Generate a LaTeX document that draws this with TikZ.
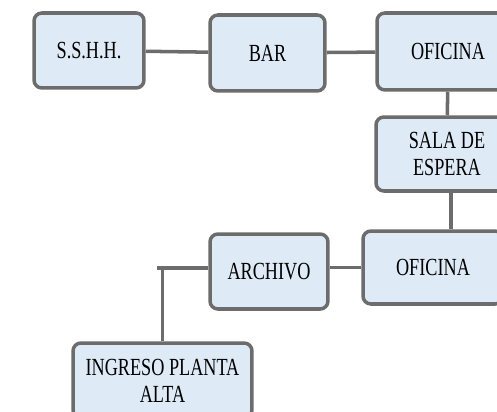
\documentclass[tikz,border=0pt]{standalone}
\usepackage{fontspec}
\setmainfont{Liberation Serif}[FakeStretch=0.74]
\usepackage{xcolor}
\usetikzlibrary{calc}
\definecolor{roomfill}{RGB}{222,234,246}
\definecolor{roomline}{RGB}{108,108,108}

\begin{document}
\begin{tikzpicture}[x=0.02cm, y=-0.02cm,
    room/.style={draw=roomline, fill=roomfill, line width=2pt, rounded corners=4.5pt,
      align=center, inner sep=0pt, font=\fontsize{14}{15.5}\selectfont},
    link/.style={draw=roomline, line width=2pt}]
      \useasboundingbox (0,0) rectangle (497,412);
      \clip (0,0) rectangle (497,412);
      \node[room, minimum width=2.2cm, minimum height=1.5cm] (sshh) at (89,50.5) {S.S.H.H.};
      \node[room, minimum width=2.3cm, minimum height=1.52cm] (bar) at (267.5,53) {BAR};
      \node[room, minimum width=2.84cm, minimum height=1.54cm] (ofiA) at (448,51.5) {OFICINA};
      \node[room, minimum width=2.84cm, minimum height=1.48cm] (sala) at (447,154) {SALA DE\\ESPERA};
      \node[room, minimum width=2.8cm, minimum height=1.46cm] (ofiB) at (433,267.5) {OFICINA};
      \node[room, minimum width=2.36cm, minimum height=1.5cm] (arch) at (269,271.5) {ARCHIVO};
      \node[room, minimum width=3.58cm, minimum height=1.5cm] (ingr) at (162.5,380.5) {INGRESO PLANTA\\ALTA};
      \coordinate (stub) at (157,268);
      \coordinate (drop) at ($(sala.south)+(4,0)$);
      \draw[link] (sshh) -- (bar) -- (ofiA);
      \draw[link] (ofiA) -- (sala);
      \draw[link] (drop) -- (drop |- ofiB.north);
      \draw[link] (ofiB.west) -- (arch.east |- ofiB.west);
      \draw[link] (arch.west |- stub) -- (stub);
      \draw[link] (ingr.north) -- (ingr.north |- stub);
    \end{tikzpicture}
\end{document}
